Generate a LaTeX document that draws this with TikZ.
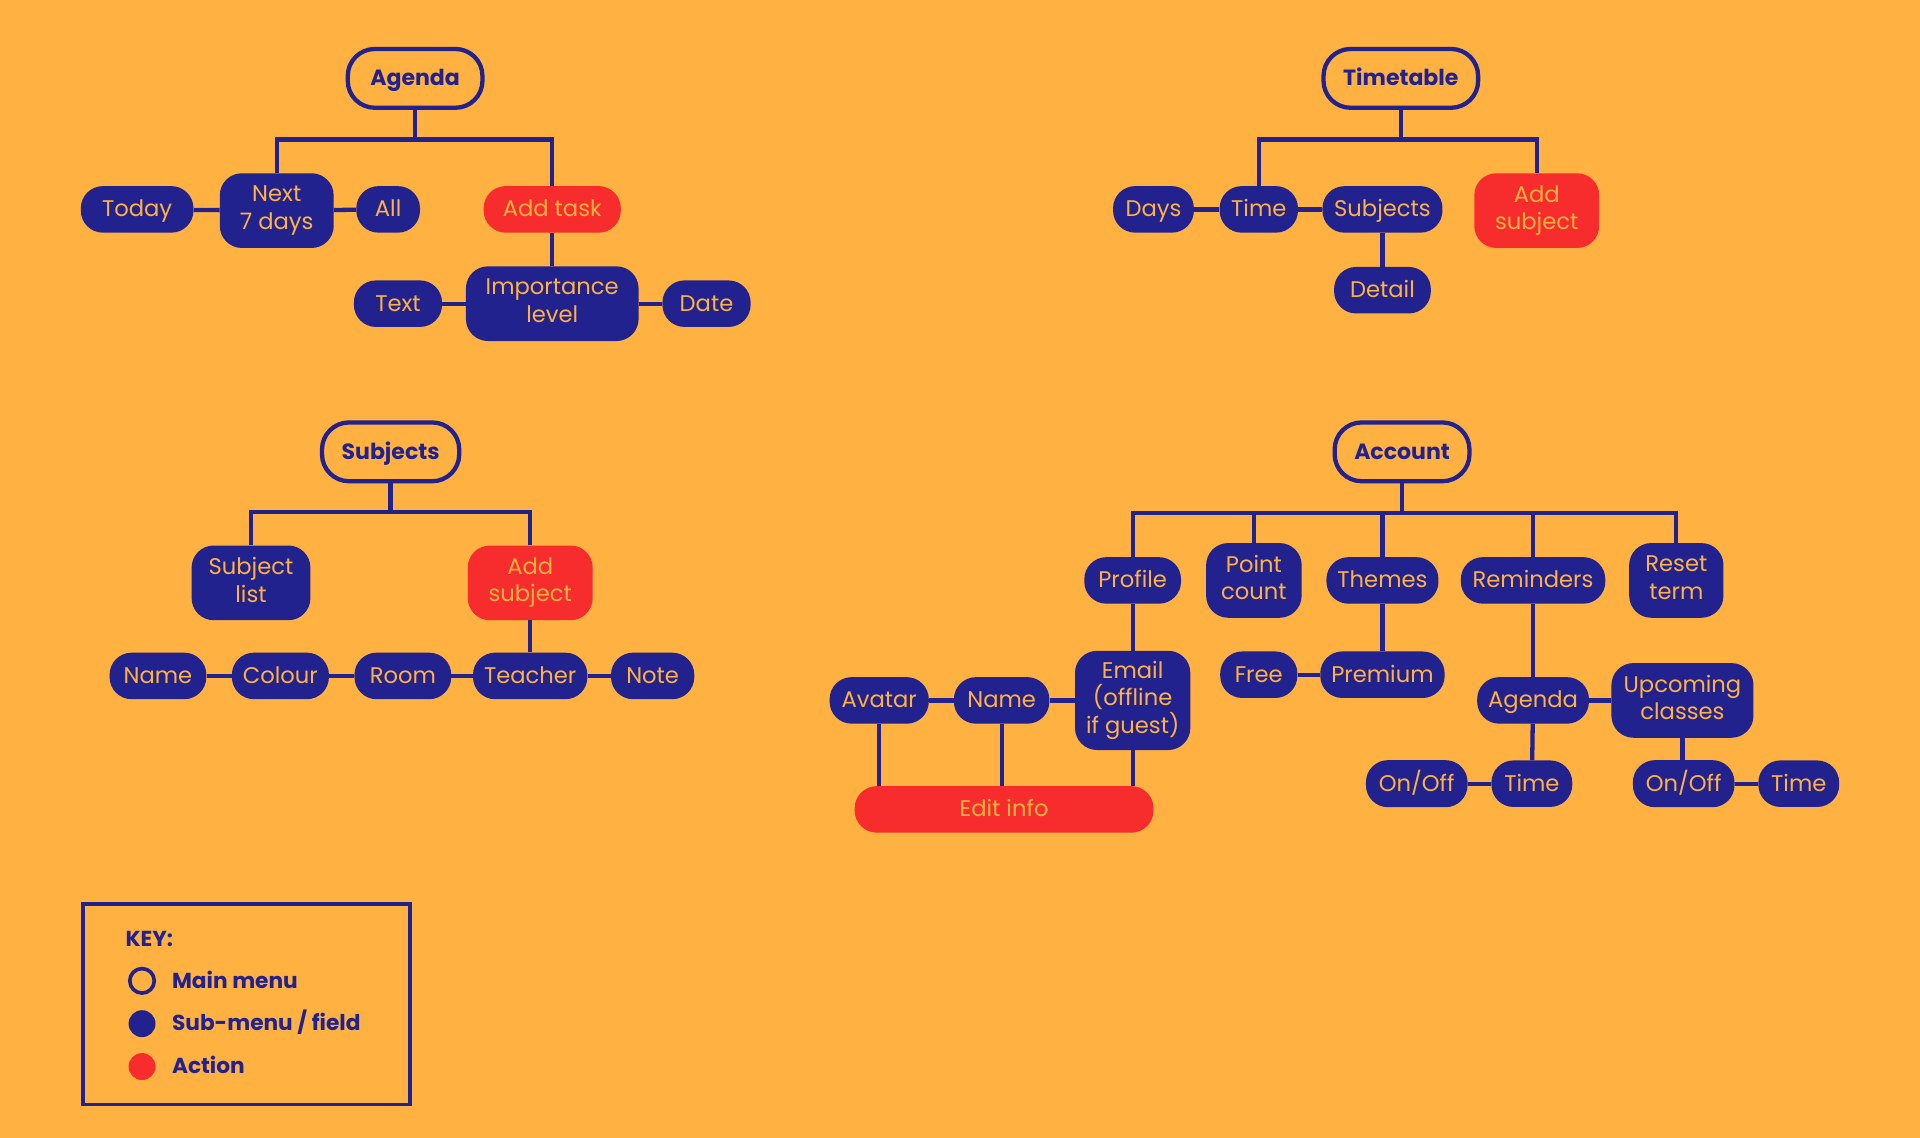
\documentclass[tikz,border=0pt]{standalone}
\usepackage{fontspec}
\setmainfont{Poppins}
\usetikzlibrary{positioning}
\definecolor{bgorange}{HTML}{FFB142}
\definecolor{navy}{HTML}{22228F}
\definecolor{actred}{HTML}{F72D2D}
\newcommand\nodestrut{\rule[-5pt]{0pt}{22pt}}

\begin{document}
\begin{tikzpicture}[
  x=1pt, y=-1pt,
  mainnode/.style={draw=navy, line width=3.5pt, rounded corners=22pt, minimum height=48pt, inner xsep=16pt, text=navy, font=\fontsize{18}{22}\selectfont\bfseries, execute at begin node=\nodestrut},
  subnode/.style={fill=navy, rounded corners=18pt, minimum height=38pt, inner xsep=9pt, inner ysep=8pt, align=center, text=bgorange, font=\fontsize{18.5}{22.5}\selectfont, execute at begin node=\nodestrut, execute at end node=\nodestrut},
  actnode/.style={subnode, fill=actred},
  twoline/.style={minimum height=61pt},
  keydot/.style={circle, minimum size=22pt, inner sep=0pt},
  keytext/.style={anchor=west, text=navy, font=\fontsize{17.7}{20}\selectfont\bfseries},
  link/.style={draw=navy, line width=3.5pt}
]
  \fill[bgorange] (0,0) rectangle (1568,929);
  \useasboundingbox (0,0) rectangle (1568,929);

  % Agenda
  \node[mainnode, minimum width=110pt] (agenda) at (339,64) {Agenda};
  \node[subnode, minimum width=92pt] (today) at (112,171) {Today};
  \node[subnode, twoline, minimum width=93pt] (next7) at (226,172) {Next\\7 days};
  \node[subnode, minimum width=52pt] (all) at (317,171) {All};
  \node[actnode, minimum width=112pt] (addtask) at (451,171) {Add task};
  \node[subnode, twoline, minimum width=141pt] (importance) at (451,248) {Importance\\level};
  \node[subnode, minimum width=72pt] (text) at (325,248) {Text};
  \node[subnode, minimum width=72pt] (date) at (577,248) {Date};
  \coordinate (agendaBr) at (339,114);
  \draw[link] (agenda) -- (agendaBr);
  \draw[link] (next7) |- (agendaBr) -| (addtask);
  \draw[link] (today) -- (next7);
  \draw[link] (next7) -- (all);
  \draw[link] (addtask) -- (importance);
  \draw[link] (text) -- (importance);
  \draw[link] (importance) -- (date);

  % Timetable
  \node[mainnode] (timetable) at (1144,64) {Timetable};
  \node[subnode, minimum width=66pt] (days) at (942,171) {Days};
  \node[subnode, minimum width=64pt] (time) at (1028,171) {Time};
  \node[subnode, minimum width=98pt] (subjectsT) at (1129,171) {Subjects};
  \node[actnode, twoline, minimum width=102pt] (addsubjectT) at (1255,172) {Add\\subject};
  \node[subnode, minimum width=79pt] (detail) at (1129,237) {Detail};
  \coordinate (timetableBr) at (1144,114);
  \draw[link] (timetable) -- (timetableBr);
  \draw[link] (time) |- (timetableBr) -| (addsubjectT);
  \draw[link] (days) -- (time);
  \draw[link] (time) -- (subjectsT);
  \draw[link] (subjectsT) -- (detail);

  % Subjects
  \node[mainnode] (subjects) at (319,369) {Subjects};
  \node[subnode, twoline, minimum width=97pt] (subjectlist) at (205,476) {Subject\\list};
  \node[actnode, twoline, minimum width=102pt] (addsubject) at (433,476) {Add\\subject};
  \node[subnode, minimum width=79pt] (name) at (129,552) {Name};
  \node[subnode, minimum width=78pt] (colour) at (229,552) {Colour};
  \node[subnode, minimum width=79pt] (room) at (329,552) {Room};
  \node[subnode, minimum width=91pt] (teacher) at (433,552) {Teacher};
  \node[subnode, minimum width=68pt] (note) at (533,552) {Note};
  \coordinate (subjectsBr) at (319,418);
  \draw[link] (subjects) -- (subjectsBr);
  \draw[link] (subjectlist) |- (subjectsBr) -| (addsubject);
  \draw[link] (addsubject) -- (teacher);
  \draw[link] (name) -- (colour);
  \draw[link] (colour) -- (room);
  \draw[link] (room) -- (teacher);
  \draw[link] (teacher) -- (note);

  % Account
  \node[mainnode] (account) at (1145,369) {Account};
  \node[subnode, minimum width=79pt] (profile) at (925,474) {Profile};
  \node[subnode, twoline, minimum width=78pt] (pointcount) at (1024,474) {Point\\count};
  \node[subnode, minimum width=88pt] (themes) at (1129,474) {Themes};
  \node[subnode, minimum width=118pt] (reminders) at (1252,474) {Reminders};
  \node[subnode, twoline, minimum width=77pt] (resetterm) at (1369,474) {Reset\\term};
  \node[subnode, minimum width=94pt, minimum height=81pt] (email) at (925,572) {Email\\(offline\\if guest)};
  \node[subnode, minimum width=78pt] (nameA) at (818,572) {Name};
  \node[subnode, minimum width=81pt] (avatar) at (718,572) {Avatar};
  \node[actnode, minimum width=244pt] (editinfo) at (820,661) {Edit info};
  \node[subnode, minimum width=63pt] (free) at (1028,551) {Free};
  \node[subnode, minimum width=99pt] (premium) at (1129,551) {Premium};
  \node[subnode, minimum width=90pt] (agendaR) at (1252,572) {Agenda};
  \node[subnode, twoline, minimum width=116pt] (upcoming) at (1374,572) {Upcoming\\classes};
  \node[subnode, minimum width=83pt] (onoffA) at (1157,640) {On/Off};
  \node[subnode, minimum width=66pt] (timeA) at (1251,640) {Time};
  \node[subnode, minimum width=83pt] (onoffU) at (1375,640) {On/Off};
  \node[subnode, minimum width=66pt] (timeU) at (1469,640) {Time};
  \coordinate (accountBr) at (1145,419);
  \draw[link] (account) -- (accountBr);
  \draw[link] (profile) |- (accountBr) -| (resetterm);
  \draw[link] (pointcount) -- (pointcount |- accountBr);
  \draw[link] (themes) -- (themes |- accountBr);
  \draw[link] (reminders) -- (reminders |- accountBr);
  \draw[link] (profile) -- (email);
  \draw[link] (avatar) -- (nameA);
  \draw[link] (nameA) -- (email);
  \draw[link] (avatar) -- (avatar |- editinfo.north);
  \draw[link] (nameA) -- (nameA |- editinfo.north);
  \draw[link] (email) -- (email |- editinfo.north);
  \draw[link] (themes) -- (premium);
  \draw[link] (free) -- (premium);
  \draw[link] (reminders) -- (agendaR);
  \draw[link] (agendaR) -- (upcoming);
  \draw[link] (agendaR) -- (timeA);
  \draw[link] (onoffA) -- (timeA);
  \draw[link] (upcoming) -- (upcoming |- onoffU.north);
  \draw[link] (onoffU) -- (timeU);

  % Key
  \node[draw=navy, line width=3pt, minimum width=267pt, minimum height=164pt] (key) at (201.5,820) {};
  \node[keytext] (keytitle) at (99,767) {KEY:};
  \node[keydot, draw=navy, line width=3pt, minimum size=20pt] (dotmain) at (116,801) {};
  \node[keydot, fill=navy] (dotsub) at (116,836) {};
  \node[keydot, fill=actred] (dotact) at (116,871) {};
  \node[keytext] (keymain) at (137,800) {Main menu};
  \node[keytext] (keysub) at (137,835) {Sub-menu / field};
  \node[keytext] (keyact) at (137,870) {Action};
\end{tikzpicture}
\end{document}
